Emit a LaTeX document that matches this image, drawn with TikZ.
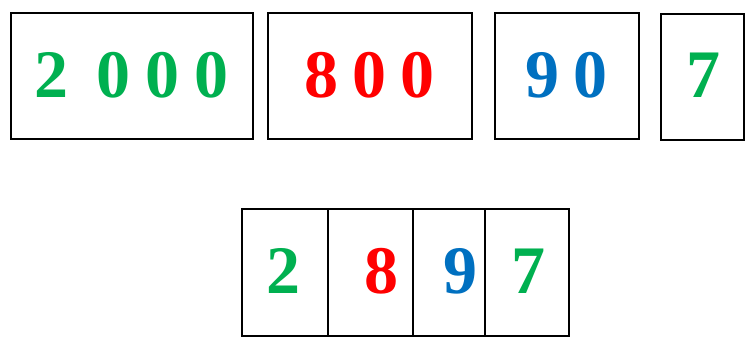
\documentclass[tikz,border=0pt]{standalone}
\usepackage{fontspec}
\setmainfont{Liberation Serif}
\definecolor{dgreen}{HTML}{00B050}
\definecolor{dred}{HTML}{FF0000}
\definecolor{dblue}{HTML}{0070C0}
\begin{document}
\begin{tikzpicture}[x=1pt,y=-1pt,
  card/.style={draw=black,line width=1.6pt,anchor=north west,inner sep=0pt},
  dig/.style={inner sep=0pt,anchor=center,font=\fontsize{68}{68}\selectfont\bfseries}]
\useasboundingbox (0,0) rectangle (753,347);
% top cards
\node[card,minimum width=242pt,minimum height=126pt] (b1) at (10,12) {};
\node[card,minimum width=204pt,minimum height=126pt] (b2) at (267,12) {};
\node[card,minimum width=144pt,minimum height=126pt] (b3) at (494,12) {};
\node[card,minimum width=83pt,minimum height=126pt] (b4) at (660,13) {};
% bottom cards
\node[card,minimum width=86pt,minimum height=127pt] (c1) at (241,208) {};
\node[card,minimum width=85pt,minimum height=127pt] (c2) at (327,208) {};
\node[card,minimum width=72pt,minimum height=127pt] (c3) at (412,208) {};
\node[card,minimum width=84pt,minimum height=127pt] (c4) at (484,208) {};
% digits top
\node[dig,text=dgreen] (t1a) at (51.5,75) {2};
\node[dig,text=dgreen] (t1b) at (113,75) {0};
\node[dig,text=dgreen] (t1c) at (162,75) {0};
\node[dig,text=dgreen] (t1d) at (211,75) {0};
\node[dig,text=dred] (t2a) at (321,75) {8};
\node[dig,text=dred] (t2b) at (369,75) {0};
\node[dig,text=dred] (t2c) at (417,75) {0};
\node[dig,text=dblue] (t3a) at (542,75) {9};
\node[dig,text=dblue] (t3b) at (590,75) {0};
\node[dig,text=dgreen] (t4a) at (703,75) {7};
% digits bottom
\node[dig,text=dgreen] (u1) at (283,271) {2};
\node[dig,text=dred] (u2) at (381,271) {8};
\node[dig,text=dblue] (u3) at (460,271) {9};
\node[dig,text=dgreen] (u4) at (528,271) {7};
\end{tikzpicture}
\end{document}
